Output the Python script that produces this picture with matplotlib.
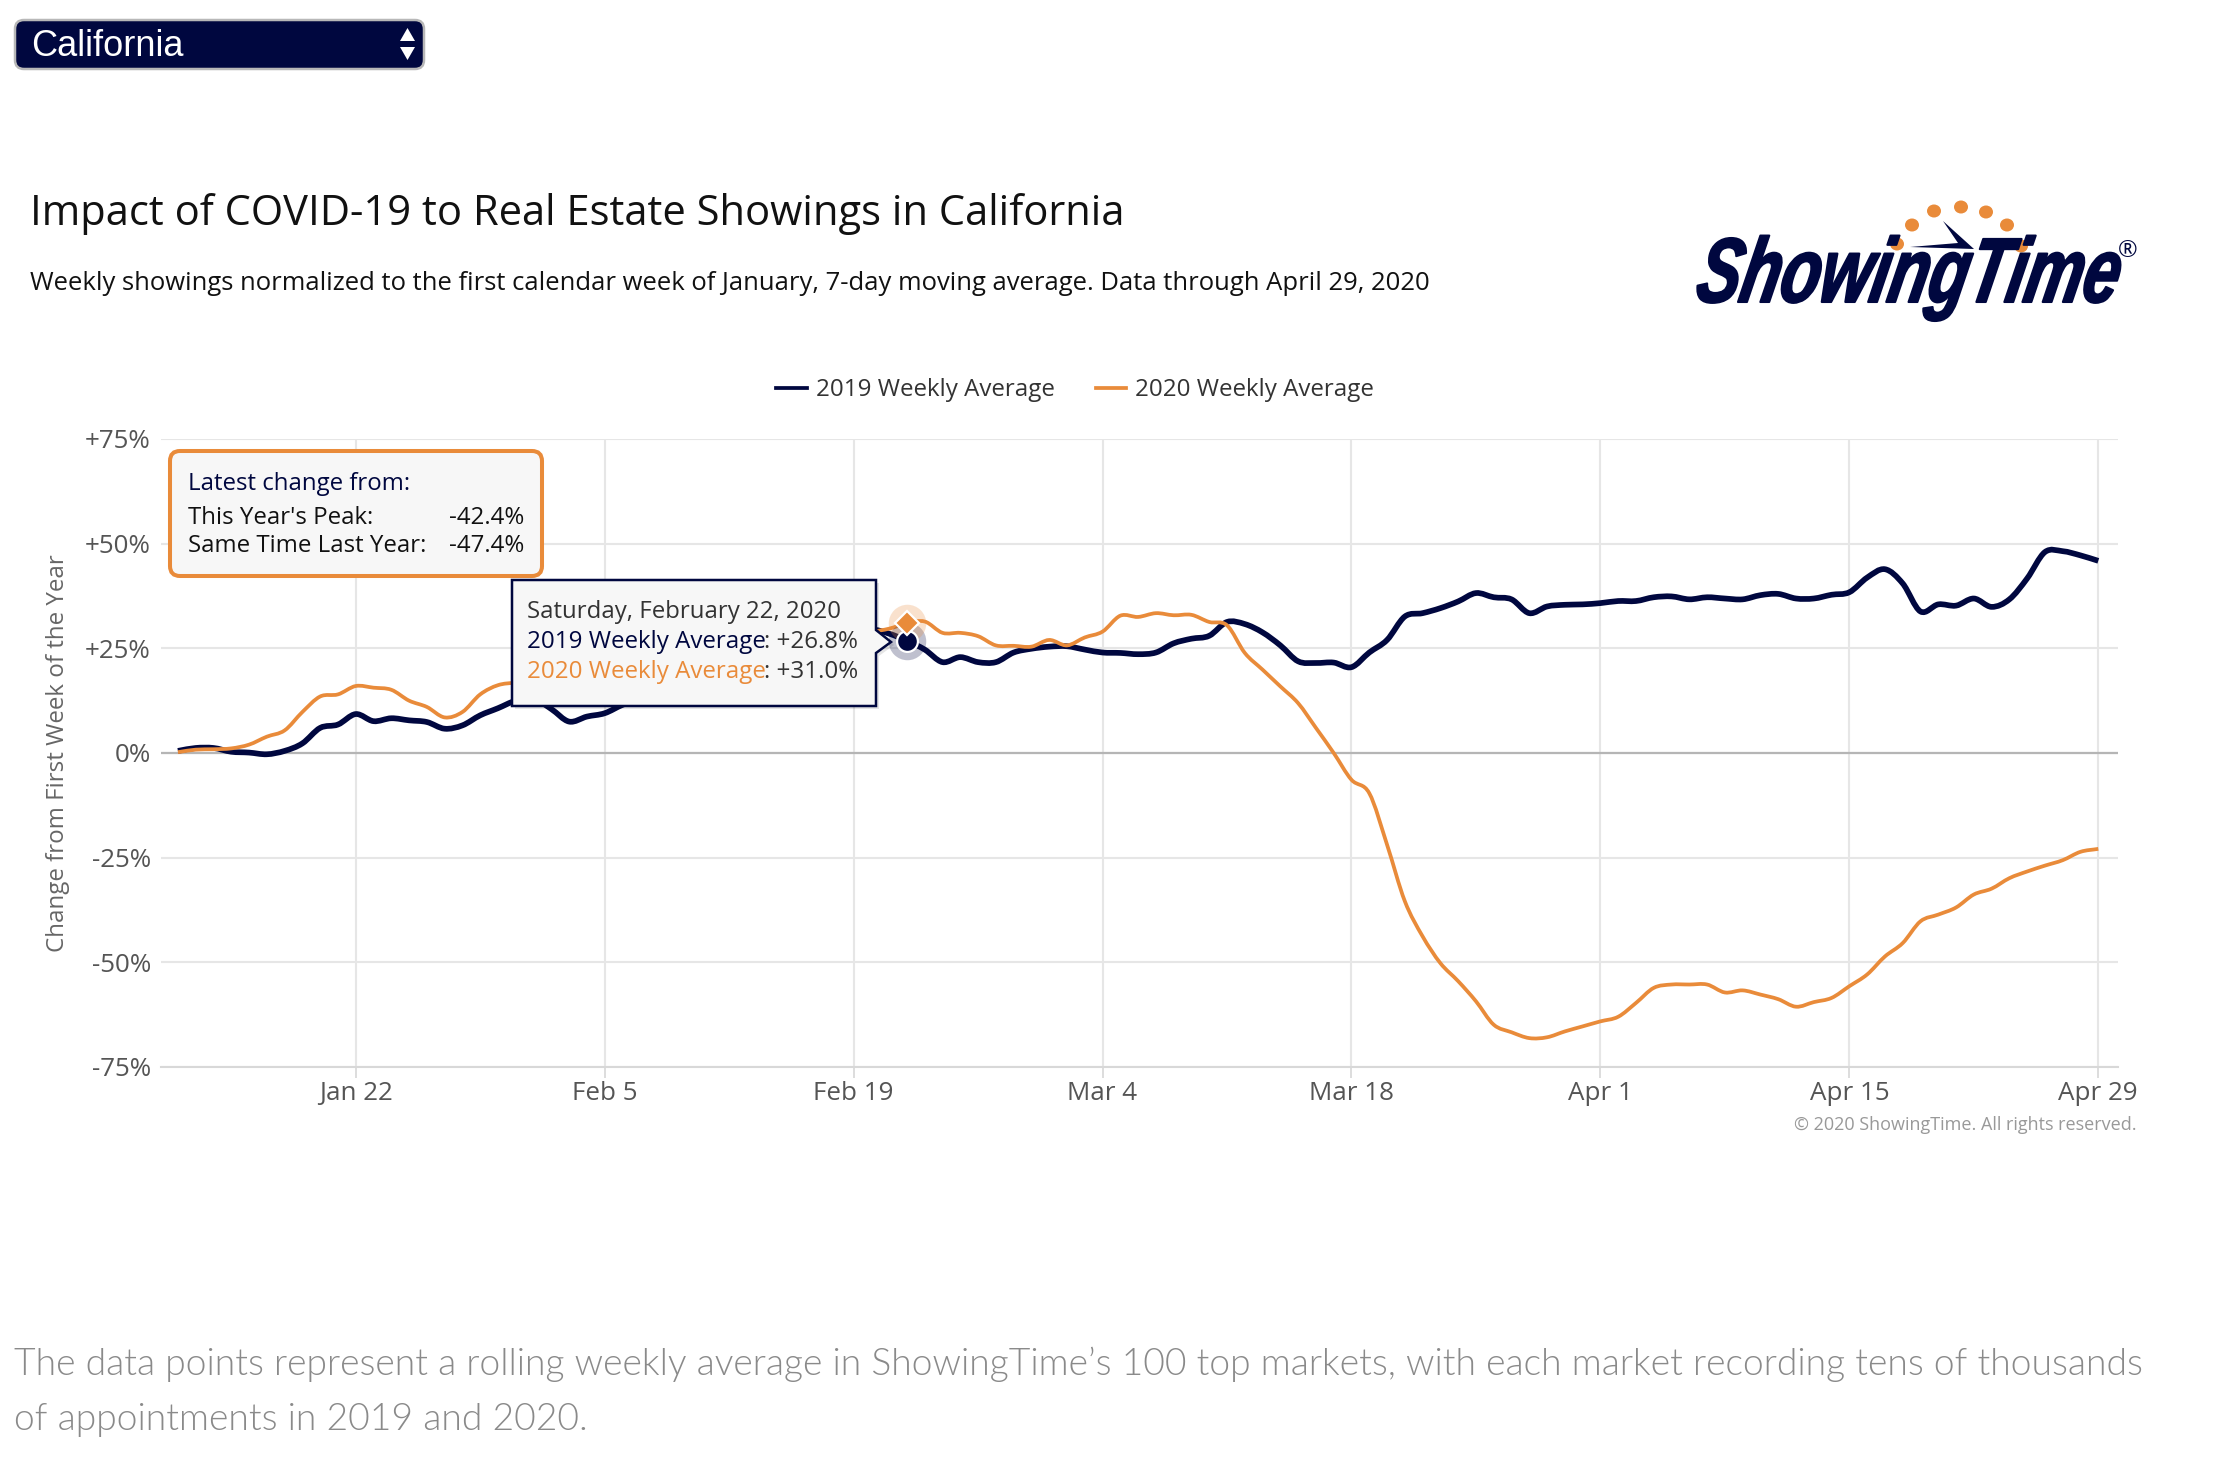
import numpy as np
import pandas as pd
import matplotlib
matplotlib.use('Agg')
import matplotlib.pyplot as plt
import matplotlib.dates as mdates
import matplotlib.patheffects as pe
from matplotlib.lines import Line2D
from matplotlib.path import Path
from matplotlib.transforms import Affine2D
from matplotlib.patches import FancyBboxPatch, Polygon, Ellipse, PathPatch

W, H = 2226, 1478
NAVY = '#00073f'
ORANGE = '#e98b3a'

plt.rcParams['font.family'] = ['Open Sans', 'DejaVu Sans']

# one value per day from Jan 12
avg_2019 = [0.5, 1.2, 1.2, 0.3, 0.1, -0.3, 0.5, 2.3, 6, 6.8, 9.3, 7.6, 8.3, 7.8, 7.4, 5.8, 6.6, 9, 10.7, 12.5,
            13, 10.5, 7.5, 8.7, 9.5, 11.5,
            13, 14, 16, 18, 19, 20, 21, 22, 23, 24, 25, 27, 28.5,
            29.5, 28.5, 26.8,
            24.7, 21.7, 22.9, 21.7, 21.7, 24, 24.9, 25.4, 25.5, 24.7, 24, 23.9, 23.6, 24, 26.2, 27.3, 28, 31.3, 30.8,
            28.8, 25.7, 21.9, 21.5, 21.6, 20.5, 24, 27, 32.6, 33.4, 34.6, 36.2, 38.2, 37.2,
            36.7, 33.4, 35, 35.4, 35.5, 35.8, 36.3, 36.3, 37.2, 37.4, 36.7, 37.2, 36.9, 36.7, 37.7, 38, 36.9, 36.9,
            37.8, 38.4, 41.9, 43.9, 40.5, 33.8, 35.5, 35.2, 36.9, 34.9, 36.7, 41.7, 48, 48.2, 47.2, 45.9]
avg_2020 = [0.2, 0.8, 0.9, 1.1, 2, 3.9, 5.4, 9.8, 13.5, 14, 16, 15.6, 15.1, 12.5, 11, 8.5, 9.8, 14, 16.2, 16.8,
            17, 17.5, 17.5, 18, 19, 20, 21, 22, 23, 24, 25, 25, 26, 26, 27, 27, 28, 28, 29, 29,
            29.7, 31, 31.4, 28.7, 28.7, 27.9, 25.7, 25.6, 25.4, 27, 25.7, 27.6, 29, 32.8, 32.5, 33.4, 32.9, 33, 31.3, 30.5,
            23.9, 19.9, 15.9, 11.9, 6, 0,
            -6.4, -9.6, -21.9, -35.4, -43.8, -50.2, -54.5, -59.3, -64.9, -66.7, -68.1, -67.9, -66.5, -65.3, -64.1,
            -63, -59.7, -56.1, -55.3, -55.3, -55.3, -57.2, -56.7, -57.7, -58.8, -60.6, -59.5, -58.5, -55.7, -52.9,
            -48.6, -45.4, -40.2, -38.6, -36.9, -33.8, -32.4, -29.9, -28.3, -26.9, -25.6, -23.6, -22.9]
days = pd.date_range('2020-01-12', periods=len(avg_2019))
tick_days = pd.to_datetime(['2020-01-22', '2020-02-05', '2020-02-19', '2020-03-04',
                            '2020-03-18', '2020-04-01', '2020-04-15', '2020-04-29'])
y_ticks = [75, 50, 25, 0, -25, -50, -75]
y_labels = ['+75%', '+50%', '+25%', '0%', '-25%', '-50%', '-75%']
hover = 41  # Feb 22


def spline(xs, ys):
    # same kind of smooth line the site draws, curve passes through every point
    xs, ys = np.asarray(xs, float), np.asarray(ys, float)
    pts = np.column_stack([xs, ys])
    tang = np.gradient(pts, axis=0)
    verts = [pts[0]]
    codes = [Path.MOVETO]
    for i in range(len(pts) - 1):
        verts += [pts[i] + tang[i] / 3, pts[i + 1] - tang[i + 1] / 3, pts[i + 1]]
        codes += [Path.CURVE4] * 3
    return Path(verts, codes)


class Squeeze(pe.AbstractPathEffect):
    # logo lettering is condensed and very slanted, no such font installed
    def __init__(self, x0, y0, sx, shear, weight):
        super().__init__()
        self.x0, self.y0, self.sx, self.shear, self.weight = x0, y0, sx, shear, weight

    def draw_path(self, renderer, gc, tpath, affine, rgbFace=None):
        t = (Affine2D().translate(-self.x0, -self.y0).scale(self.sx, 1)
             + Affine2D.from_values(1, 0, self.shear, 1, 0, 0)
             + Affine2D().translate(self.x0, self.y0))
        gc0 = renderer.new_gc()
        gc0.copy_properties(gc)
        gc0.set_linewidth(self.weight)
        gc0.set_foreground(rgbFace)
        renderer.draw_path(gc0, tpath, affine + t, rgbFace)
        gc0.restore()


fig = plt.figure(figsize=(W / 100, H / 100), dpi=100, facecolor='white')

# main chart, placed in pixels
left, right, top, bottom = 160.6, 2118, 439, 1067
ax = fig.add_axes([left / W, 1 - bottom / H, (right - left) / W, (bottom - top) / H])
x_num = mdates.date2num(days)
ax.add_patch(PathPatch(spline(x_num, avg_2019), fc='none', ec=NAVY, lw=4.1, capstyle='butt', joinstyle='round', zorder=3))
ax.add_patch(PathPatch(spline(x_num, avg_2020), fc='none', ec=ORANGE, lw=2.7, capstyle='butt', joinstyle='round', zorder=4))

ax.xaxis_date()
ax.set_xlim(days[0] - pd.Timedelta(hours=23.4), days[-1] + pd.Timedelta(hours=26.6))
ax.set_ylim(-75, 75)
ax.set_xticks(tick_days)
ax.xaxis.set_major_formatter(mdates.DateFormatter('%b %-d'))
ax.set_yticks(y_ticks)
ax.set_yticklabels(y_labels)
ax.grid(True, color='#e6e6e6', lw=1.5)
ax.set_axisbelow(True)
ax.axhline(0, color='#b5b5b5', lw=1.6, zorder=2)
for s in ['top', 'left', 'right']:
    ax.spines[s].set_visible(False)
ax.spines['bottom'].set_color('#d8d8d8')
ax.spines['bottom'].set_linewidth(1.5)
ax.tick_params(axis='x', length=8, width=1.4, color='#dddddd', labelsize=18.7, labelcolor='#555555', pad=2)
ax.tick_params(axis='y', length=0, labelsize=18.7, labelcolor='#555555', pad=7)
ax.set_ylabel('Change from First Week of the Year', fontsize=17.4, color='#666666')
ax.yaxis.set_label_coords((70 - left) / (right - left), 0.5)

# hover markers
ax.plot(days[hover], avg_2019[hover], 'o', ms=27, color=NAVY, alpha=0.25, mec='none', zorder=5)
ax.plot(days[hover], avg_2020[hover], 'o', ms=27, color=ORANGE, alpha=0.25, mec='none', zorder=5)
ax.plot(days[hover], avg_2019[hover], 'o', ms=15, color=NAVY, mec='white', mew=1.6, zorder=6)
ax.plot(days[hover], avg_2020[hover], 'D', ms=12.5, color=ORANGE, mec='white', mew=1.6, zorder=7)

fig.legend(handles=[Line2D([], [], color=NAVY, lw=2.7), Line2D([], [], color=ORANGE, lw=2.7)],
           labels=['2019 Weekly Average', '2020 Weekly Average'], ncol=2, frameon=False,
           loc='center', bbox_to_anchor=(1075 / W, 1 - 390 / H), fontsize=17.4, labelcolor='#333333',
           handlelength=1.28, handletextpad=0.35, columnspacing=1.7)

# everything around the chart goes on a pixel overlay
ov = fig.add_axes([0, 0, 1, 1], zorder=10)
ov.set_xlim(0, W)
ov.set_ylim(H, 0)
ov.axis('off')
ov.patch.set_alpha(0)

# state dropdown
ov.add_patch(FancyBboxPatch((15, 20), 409, 49, boxstyle='round,pad=0,rounding_size=9',
                            fc=NAVY, ec='#b8b8b8', lw=1.8))
ov.text(31, 46, 'California', color='white', fontsize=26, family='Liberation Sans', va='center')
ov.add_patch(Polygon([(400, 41), (415, 41), (407.5, 28)], fc='white', ec='none'))
ov.add_patch(Polygon([(400, 47), (415, 47), (407.5, 60)], fc='white', ec='none'))

ov.text(30, 214, 'Impact of COVID-19 to Real Estate Showings in California', fontsize=30, color='#111111', va='center')
ov.text(30, 284, 'Weekly showings normalized to the first calendar week of January, 7-day moving average. '
                 'Data through April 29, 2020', fontsize=18.45, color='#111111', va='center')

# logo
ov.text(2118, 302, 'ShowingTime', fontsize=66, family='Liberation Sans', weight='bold', style='italic',
        color=NAVY, va='baseline', ha='right', path_effects=[Squeeze(2109, H - 302, 0.71, 0.2, 1.5)])
logo_dots = [(1897, 244), (1912, 225), (1934, 211), (1961, 207), (1986, 212), (2007, 225), (2021, 246)]
for x, y in logo_dots:
    ov.add_patch(Ellipse((x, y), 14, 13, fc=ORANGE, ec='none'))
ov.add_patch(Polygon([(1943, 221), (1974, 249), (1910, 247), (1958, 243)], fc=NAVY, ec='none'))
ov.text(2128, 251, '®', fontsize=17, color=NAVY, ha='center', va='center')

# latest change box
ov.add_patch(FancyBboxPatch((170, 451), 372, 125, boxstyle='round,pad=0,rounding_size=10',
                            fc='#f7f7f7', ec=ORANGE, lw=2.9))
ov.text(188, 484, 'Latest change from:', fontsize=17.3, color=NAVY, va='center')
ov.text(188, 517.5, "This Year's Peak:", fontsize=17.3, color='#111111', va='center')
ov.text(188, 545.5, 'Same Time Last Year:', fontsize=17.3, color='#111111', va='center')
ov.text(524, 517.5, '-42.4%', fontsize=17.3, color='#111111', va='center', ha='right')
ov.text(524, 545.5, '-47.4%', fontsize=17.3, color='#111111', va='center', ha='right')

# tooltip with its arrow
tip = [(512, 580), (876, 580), (876, 630), (891, 642), (876, 653), (876, 706), (512, 706)]
ov.add_patch(Polygon([(x + 3, y + 3) for x, y in tip], fc='black', ec='none', alpha=0.10))
ov.add_patch(Polygon(tip, fc='#f7f7f7', ec=NAVY, lw=1.8))
ov.text(527, 612, 'Saturday, February 22, 2020', fontsize=17.3, color='#333333', va='center')
ov.text(527, 642, '2019 Weekly Average', fontsize=17.4, color=NAVY, va='center')
ov.text(527, 672, '2020 Weekly Average', fontsize=17.4, color=ORANGE, va='center')
ov.text(858, 642, ': +26.8%', fontsize=17.4, color='#333333', va='center', ha='right')
ov.text(858, 672, ': +31.0%', fontsize=17.4, color='#333333', va='center', ha='right')

ov.text(2137, 1125, '© 2020 ShowingTime. All rights reserved.', fontsize=13, color='#999999', ha='right', va='center')

para = ['The data points represent a rolling weekly average in ShowingTime’s 100 top markets, with each market recording tens of thousands',
        'of appointments in 2019 and 2020.']
ov.text(14, 1364, para[0], fontsize=26.8, family='Lato', weight=300, color='#8a8a8a', va='center')
ov.text(14, 1420, para[1], fontsize=26.8, family='Lato', weight=300, color='#8a8a8a', va='center')

fig.savefig('out.png', dpi=100)
